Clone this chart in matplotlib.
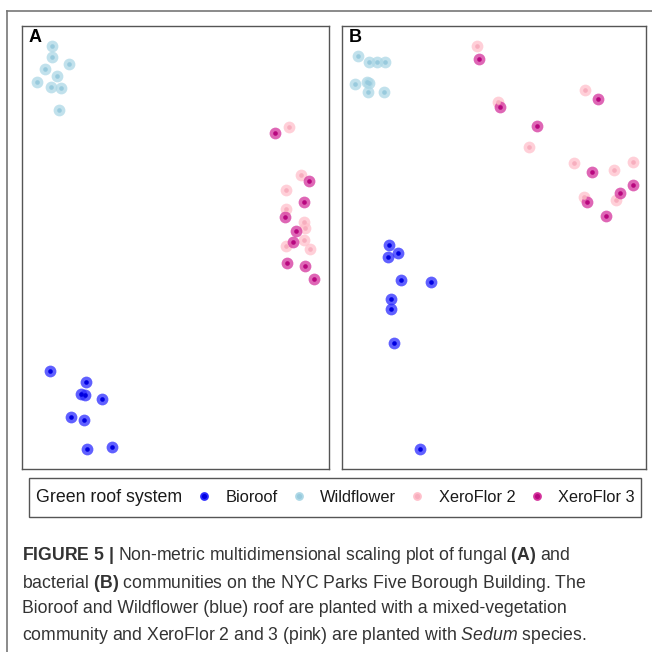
import matplotlib.pyplot as plt
from matplotlib.lines import Line2D
from matplotlib.patches import Rectangle

plt.rcParams['font.family'] = ['Liberation Sans', 'DejaVu Sans']
plt.rcParams['mathtext.fontset'] = 'custom'
plt.rcParams['mathtext.rm'] = 'Liberation Sans'
plt.rcParams['mathtext.bf'] = 'Liberation Sans:bold'
plt.rcParams['mathtext.it'] = 'Liberation Sans:italic'

groups = ["Bioroof", "Wildflower", "XeroFlor 2", "XeroFlor 3"]
halo_colors = ["#2b2bff", "#add8e6", "#ffc0cb", "#d4339c"]
core_colors = ["#0000e0", "#98cadd", "#f7aebe", "#b8077f"]

# NMDS scores - fungal communities (A)
fungal_bioroof_x = [-1.25, -0.89, -0.943, -0.897, -0.733, -1.037, -0.91, -0.877, -0.627]
fungal_bioroof_y = [-1.213, -1.32, -1.443, -1.447, -1.49, -1.667, -1.703, -1.993, -1.973]
fungal_wild_x = [-1.233, -1.233, -1.063, -1.297, -1.183, -1.383, -1.24, -1.137, -1.16]
fungal_wild_y = [2.04, 1.927, 1.857, 1.813, 1.737, 1.677, 1.633, 1.617, 1.40]
fungal_xf2_x = [1.14, 1.263, 1.107, 1.107, 1.287, 1.303, 1.293, 1.11, 1.353]
fungal_xf2_y = [1.23, 0.75, 0.597, 0.413, 0.28, 0.223, 0.10, 0.037, 0.013]
fungal_xf3_x = [1.003, 1.337, 1.29, 1.103, 1.207, 1.183, 1.117, 1.303, 1.393]
fungal_xf3_y = [1.173, 0.687, 0.48, 0.327, 0.193, 0.083, -0.13, -0.163, -0.29]

# NMDS scores - bacterial communities (B)
bact_bioroof_x = [-1.057, -0.967, -1.067, -0.943, -0.64, -1.043, -1.037, -1.013, -0.75]
bact_bioroof_y = [0.053, -0.027, -0.067, -0.30, -0.317, -0.49, -0.593, -0.927, -1.993]
bact_wild_x = [-1.367, -1.26, -1.177, -1.10, -1.40, -1.283, -1.263, -1.27, -1.113]
bact_wild_y = [1.94, 1.883, 1.883, 1.88, 1.66, 1.677, 1.667, 1.583, 1.583]
bact_xf2_x = [-0.177, 0.90, 0.033, 0.343, 0.79, 1.38, 1.187, 0.887, 1.213]
bact_xf2_y = [2.037, 1.597, 1.477, 1.033, 0.87, 0.877, 0.80, 0.527, 0.50]
bact_xf3_x = [-0.157, 1.027, 0.05, 0.423, 0.973, 1.377, 1.25, 0.92, 1.107]
bact_xf3_y = [1.913, 1.507, 1.427, 1.24, 0.777, 0.653, 0.567, 0.48, 0.337]

fungal = [(fungal_bioroof_x, fungal_bioroof_y), (fungal_wild_x, fungal_wild_y),
          (fungal_xf2_x, fungal_xf2_y), (fungal_xf3_x, fungal_xf3_y)]
bacterial = [(bact_bioroof_x, bact_bioroof_y), (bact_wild_x, bact_wild_y),
             (bact_xf2_x, bact_xf2_y), (bact_xf3_x, bact_xf3_y)]

W = H = 652
fig = plt.figure(figsize=(6.52, 6.52), dpi=100)


def px_box(x0, y0, x1, y1):
    return [x0 / W, 1 - y1 / H, (x1 - x0) / W, (y1 - y0) / H]


ax_a = fig.add_axes(px_box(22, 26, 329, 469))
ax_b = fig.add_axes(px_box(342, 26, 646, 469))

for ax, data, label, xlim in [(ax_a, fungal, "A", (-1.53, 1.54)),
                              (ax_b, bacterial, "B", (-1.53, 1.51))]:
    for (x, y), halo, core in zip(data, halo_colors, core_colors):
        ax.scatter(x, y, s=72, color=halo, alpha=0.75, linewidths=0, zorder=2)
        ax.scatter(x, y, s=11, color=core, linewidths=0, zorder=3)
    ax.set_xlim(*xlim)
    ax.set_ylim(-2.19, 2.24)
    ax.set_xticks([])
    ax.set_yticks([])
    for sp in ax.spines.values():
        sp.set_color("#555555")
        sp.set_linewidth(1.0)
    ax.text(0.022, 0.993, label, transform=ax.transAxes, fontsize=13,
            fontweight="bold", va="top", ha="left", color="black")

# page rules
fig.add_artist(Line2D([7 / W, 1], [1 - 11 / H, 1 - 11 / H], color="#777777", lw=1.2))
fig.add_artist(Line2D([7 / W, 7 / W], [0, 1 - 11 / H], color="#777777", lw=1.2))

# legend strip
x0, y0, w, h = px_box(29, 478, 641, 517)
fig.add_artist(Rectangle((x0, y0), w, h, transform=fig.transFigure,
                         facecolor="none", edgecolor="#555555", lw=1.0))
fig.text(36 / W, y0 + h / 2, "Green roof system", fontsize=12.8, va="center",
         ha="left", color="#1a1a1a")
handles = [Line2D([], [], linestyle="none", marker="o", markersize=5,
                  markerfacecolor=c, markeredgecolor=hc, markeredgewidth=1.3)
           for c, hc in zip(core_colors, halo_colors)]
fig.legend(handles, groups, loc="center left", ncol=4, frameon=False,
           bbox_to_anchor=(199 / W, y0 + h / 2), fontsize=11.8,
           handlelength=0.6, handletextpad=1.0, columnspacing=1.0,
           borderaxespad=0, borderpad=0, labelcolor="#1a1a1a")

caption = (r"$\mathbf{FIGURE\ 5\ |}$ Non-metric multidimensional scaling plot of fungal $\mathbf{(A)}$ and" "\n"
           r"bacterial $\mathbf{(B)}$ communities on the NYC Parks Five Borough Building. The" "\n"
           "Bioroof and Wildflower (blue) roof are planted with a mixed-vegetation\n"
           r"community and XeroFlor 2 and 3 (pink) are planted with $\mathit{Sedum}$ species.")
fig.text(22 / W, 1 - 545 / H, caption, fontsize=12.7, va="top", ha="left",
         color="#333333", linespacing=1.48)

fig.savefig("out.png", dpi=100)
